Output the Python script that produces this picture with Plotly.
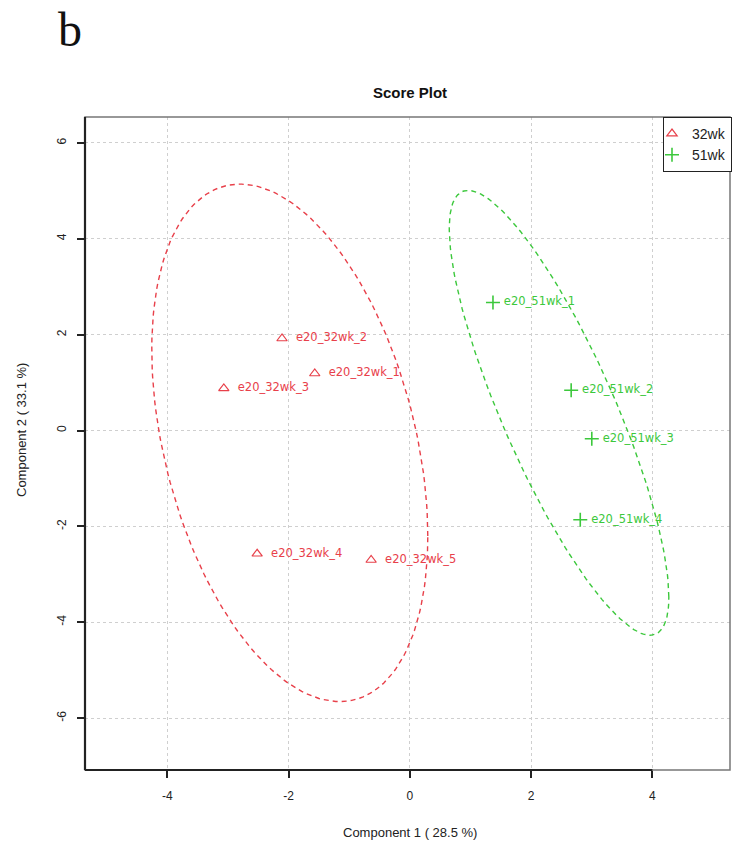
import numpy as np
import plotly.graph_objects as go

# PLS-DA score data
labels_32 = ["e20_32wk_1", "e20_32wk_2", "e20_32wk_3", "e20_32wk_4", "e20_32wk_5"]
comp1_32 = [-1.57, -2.11, -3.07, -2.52, -0.64]
comp2_32 = [1.19, 1.92, 0.88, -2.57, -2.70]

labels_51 = ["e20_51wk_1", "e20_51wk_2", "e20_51wk_3", "e20_51wk_4"]
comp1_51 = [1.37, 2.66, 3.00, 2.81]
comp2_51 = [2.67, 0.84, -0.17, -1.86]

x_ticks = [-4, -2, 0, 2, 4]
y_ticks = [-6, -4, -2, 0, 2, 4, 6]

RED = "#E8404A"
GREEN = "#3CC83C"
X_RANGE = [-5.36, 5.28]
Y_RANGE = [-7.08, 6.54]


def conf_ellipse(x, y, level=0.95, n=200):
    """95% confidence ellipse from the sample covariance of a group."""
    pts = np.column_stack([x, y])
    mu = pts.mean(axis=0)
    cov = np.cov(pts, rowvar=False)
    r = np.sqrt(-2.0 * np.log(1.0 - level))  # sqrt(qchisq(level, 2))
    chol = np.linalg.cholesky(cov)
    t = np.linspace(0, 2 * np.pi, n)
    circle = np.vstack([np.cos(t), np.sin(t)])
    ell = (chol @ circle) * r
    return mu[0] + ell[0], mu[1] + ell[1]


fig = go.Figure()

for xs, ys, col in [(comp1_32, comp2_32, RED), (comp1_51, comp2_51, GREEN)]:
    ex, ey = conf_ellipse(xs, ys)
    fig.add_trace(go.Scatter(
        x=ex, y=ey, mode="lines", showlegend=False, hoverinfo="skip",
        line=dict(color=col, width=1.4, dash="5px,4px"),
    ))

fig.add_trace(go.Scatter(
    x=comp1_32, y=comp2_32, mode="markers+text", name="32wk",
    text=labels_32, texttemplate="  %{text}", textposition="middle right",
    textfont=dict(family="DejaVu Sans", size=11.5, color=RED),
    marker=dict(symbol="triangle-up-open", size=9, color=RED, line=dict(width=1.2)),
))
fig.add_trace(go.Scatter(
    x=comp1_51, y=comp2_51, mode="markers+text", name="51wk",
    text=labels_51, texttemplate=" %{text}", textposition="middle right",
    textfont=dict(family="DejaVu Sans", size=11.5, color=GREEN),
    marker=dict(symbol="cross-thin-open", size=10, color=GREEN, line=dict(width=1.6, color=GREEN)),
))

grid = dict(showgrid=True, gridcolor="#cfcfcf", griddash="dot", gridwidth=1, zeroline=False)

fig.update_xaxes(
    range=X_RANGE, tickvals=x_ticks, ticktext=[str(v) for v in x_ticks],
    ticks="outside", ticklen=7, tickwidth=1.5, tickcolor="#222",
    ticklabelstandoff=8, showline=False,
    tickfont=dict(family="Liberation Sans", size=12, color="#222"), **grid,
)
fig.update_yaxes(
    range=Y_RANGE, tickvals=y_ticks, ticktext=[str(v) for v in y_ticks],
    ticks="outside", ticklen=7, tickwidth=1.5, tickcolor="#222", tickangle=-90,
    ticklabelstandoff=6, showline=False,
    tickfont=dict(family="Liberation Sans", size=12, color="#222"), **grid,
)

shapes = [
    # plot frame
    dict(type="rect", xref="paper", yref="paper", x0=0, x1=1, y0=0, y1=1,
         line=dict(color="#777", width=1.5), layer="above"),
    # axis lines (bottom runs from the frame edge to the last tick)
    dict(type="line", xref="x", yref="paper", x0=X_RANGE[0], x1=x_ticks[-1], y0=0, y1=0,
         line=dict(color="#222", width=2.2), layer="above"),
    dict(type="line", xref="paper", yref="paper", x0=0, x1=0, y0=0, y1=1,
         line=dict(color="#222", width=2.2), layer="above"),
]

annotations = [
    dict(text="b", xref="paper", yref="paper", x=(70 - 85) / 645, y=1 + 88 / 653,
         xanchor="center", yanchor="middle", showarrow=False,
         font=dict(family="Liberation Serif", size=48, color="#111")),
    dict(text="Component 1 ( 28.5 %)", xref="paper", yref="paper", x=(410 - 85) / 645,
         y=-62 / 653, xanchor="center", yanchor="middle", showarrow=False,
         font=dict(family="Liberation Sans", size=13, color="#222")),
    dict(text="Component 2 ( 33.1 %)", xref="paper", yref="paper", x=-63 / 645,
         y=(770 - 430) / 653, xanchor="center", yanchor="middle", textangle=-90,
         showarrow=False, font=dict(family="Liberation Sans", size=13, color="#222")),
]

fig.update_layout(
    width=734, height=845,
    margin=dict(l=85, r=4, t=117, b=75, autoexpand=False),
    paper_bgcolor="white", plot_bgcolor="white",
    title=dict(text="<b>Score Plot</b>", x=410 / 734, xanchor="center",
               y=1 - 93 / 845, yanchor="middle",
               font=dict(family="Liberation Sans", size=15, color="#111")),
    legend=dict(x=(732 - 85) / 645, y=1, xanchor="right", yanchor="top",
                bordercolor="#222", borderwidth=1, bgcolor="white",
                font=dict(family="Liberation Sans", size=14, color="#222"),
                itemwidth=30, tracegroupgap=0, indentation=-12),
    shapes=shapes, annotations=annotations,
)

fig.write_html("out.html")
